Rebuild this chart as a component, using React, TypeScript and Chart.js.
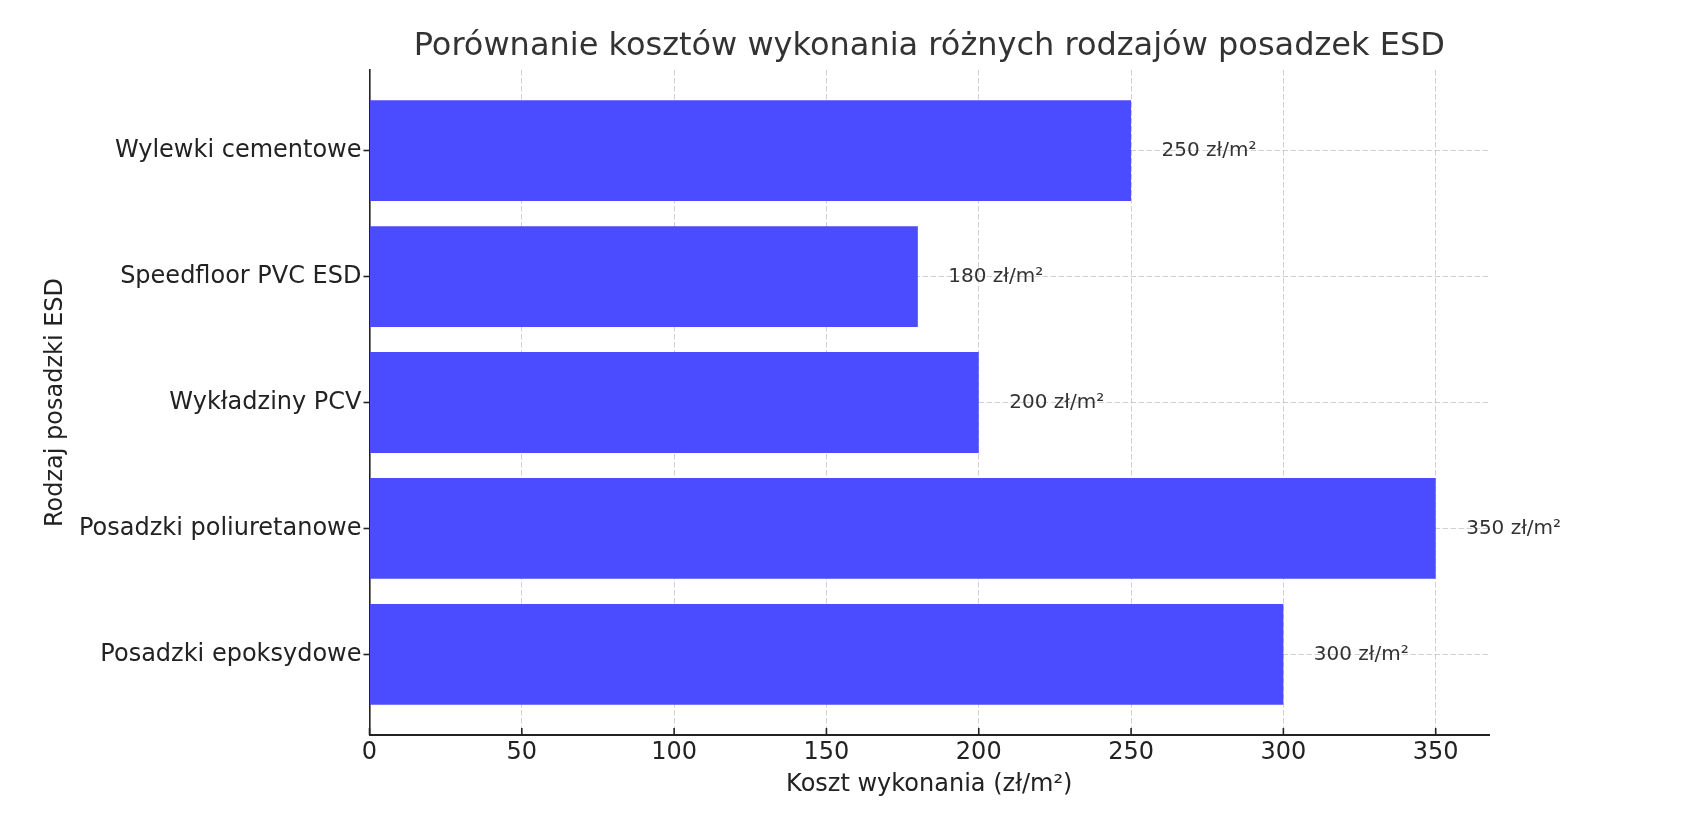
import { useEffect, useRef } from 'react'
import { Chart, registerables } from 'chart.js'

Chart.register(...registerables)

// bottom → top, same order as the y positions 0..4
const categories = [
  'Posadzki epoksydowe',
  'Posadzki poliuretanowe',
  'Wykładziny PCV',
  'Speedfloor PVC ESD',
  'Wylewki cementowe',
]
const costs = [300, 350, 200, 180, 250]
const xTicks = [0, 50, 100, 150, 200, 250, 300, 350]

const FONT = '"DejaVu Sans", sans-serif'
const TITLE = 'Porównanie kosztów wykonania różnych rodzajów posadzek ESD'

const decorations = {
  id: 'decorations',
  afterDraw(chart: any) {
    const { ctx, chartArea, scales } = chart
    const x = scales.x
    ctx.save()

    // title centred over the plot area
    ctx.fillStyle = '#333333'
    ctx.font = `32px ${FONT}`
    ctx.textAlign = 'center'
    ctx.textBaseline = 'alphabetic'
    ctx.fillText(TITLE, (chartArea.left + chartArea.right) / 2, 55)

    // inward tick marks on the x axis
    ctx.strokeStyle = '#222222'
    ctx.lineWidth = 1.6
    xTicks.forEach((v) => {
      const px = x.getPixelForValue(v)
      ctx.beginPath()
      ctx.moveTo(px, chartArea.bottom)
      ctx.lineTo(px, chartArea.bottom - 7)
      ctx.stroke()
    })

    // value labels right of every bar
    ctx.fillStyle = '#333333'
    ctx.font = `20px ${FONT}`
    ctx.textAlign = 'left'
    ctx.textBaseline = 'middle'
    const meta = chart.getDatasetMeta(0)
    meta.data.forEach((bar: any, i: number) => {
      ctx.fillText(`${costs[i]} zł/m²`, x.getPixelForValue(costs[i] + 10), bar.y)
    })
    ctx.restore()
  },
}

export default function App() {
  const chartRef = useRef<HTMLCanvasElement>(null)
  const chartInstance = useRef<Chart | null>(null)

  useEffect(() => {
    if (!chartRef.current) return
    if (chartInstance.current) chartInstance.current.destroy()
    const ctx = chartRef.current.getContext('2d')
    if (!ctx) return

    const gridColor = 'rgba(176, 176, 176, 0.6)'

    chartInstance.current = new Chart(ctx, {
      type: 'bar',
      data: {
        datasets: [
          {
            data: costs.map((c, i) => ({ x: c, y: i })),
            backgroundColor: 'rgb(75, 75, 255)',
            borderWidth: 0,
            barPercentage: 0.8,
            categoryPercentage: 1,
          },
        ],
      },
      options: {
        indexAxis: 'y',
        animation: false,
        responsive: true,
        maintainAspectRatio: false,
        devicePixelRatio: 1,
        layout: { padding: { top: 70, right: 207, left: 0, bottom: 0 } },
        plugins: {
          legend: { display: false },
          title: { display: false },
          tooltip: { enabled: false },
        },
        scales: {
          x: {
            type: 'linear',
            min: 0,
            max: 367.5,
            z: 1,
            afterBuildTicks: (scale: any) => {
              scale.ticks = xTicks.map((v) => ({ value: v }))
            },
            afterFit: (scale: any) => {
              scale.height = 81
            },
            grid: {
              color: gridColor,
              lineWidth: 1,
              drawTicks: false,
            },
            border: { display: true, color: '#222222', width: 2, dash: [5.5, 2.5] },
            ticks: {
              color: '#222222',
              padding: 3.3,
              font: { family: FONT, size: 24, lineHeight: 1.2 },
              maxRotation: 0,
            },
            title: {
              display: true,
              text: 'Koszt wykonania (zł/m²)',
              color: '#222222',
              font: { family: FONT, size: 24, lineHeight: 1.2 },
              padding: { top: 0, bottom: 16.6 },
            },
          },
          y: {
            type: 'linear',
            min: -0.64,
            max: 4.64,
            offset: false,
            z: 1,
            afterBuildTicks: (scale: any) => {
              scale.ticks = categories.map((_, i) => ({ value: i }))
            },
            afterFit: (scale: any) => {
              scale.width = 369.5
            },
            grid: {
              offset: false,
              color: gridColor,
              lineWidth: 1,
              drawTicks: true,
              tickLength: 6,
              tickColor: '#222222',
              tickWidth: 1.6,
              tickBorderDash: [],
            },
            border: { display: true, color: '#222222', width: 1.6, dash: [5.5, 2.5] },
            ticks: {
              color: '#222222',
              padding: 2,
              font: { family: FONT, size: 24, lineHeight: 1.2 },
              callback: (v: any) => categories[v] ?? '',
            },
            title: {
              display: true,
              text: 'Rodzaj posadzki ESD',
              color: '#222222',
              font: { family: FONT, size: 24, lineHeight: 1.2 },
              padding: { top: 41.6, bottom: 0 },
            },
          },
        },
      },
      plugins: [decorations],
    } as any)

    return () => {
      if (chartInstance.current) {
        chartInstance.current.destroy()
        chartInstance.current = null
      }
    }
  }, [])

  return (
    <div style={{ position: 'absolute', left: 0, top: 0, width: 1696, height: 816, background: '#ffffff' }}>
      <canvas ref={chartRef} />
    </div>
  )
}
